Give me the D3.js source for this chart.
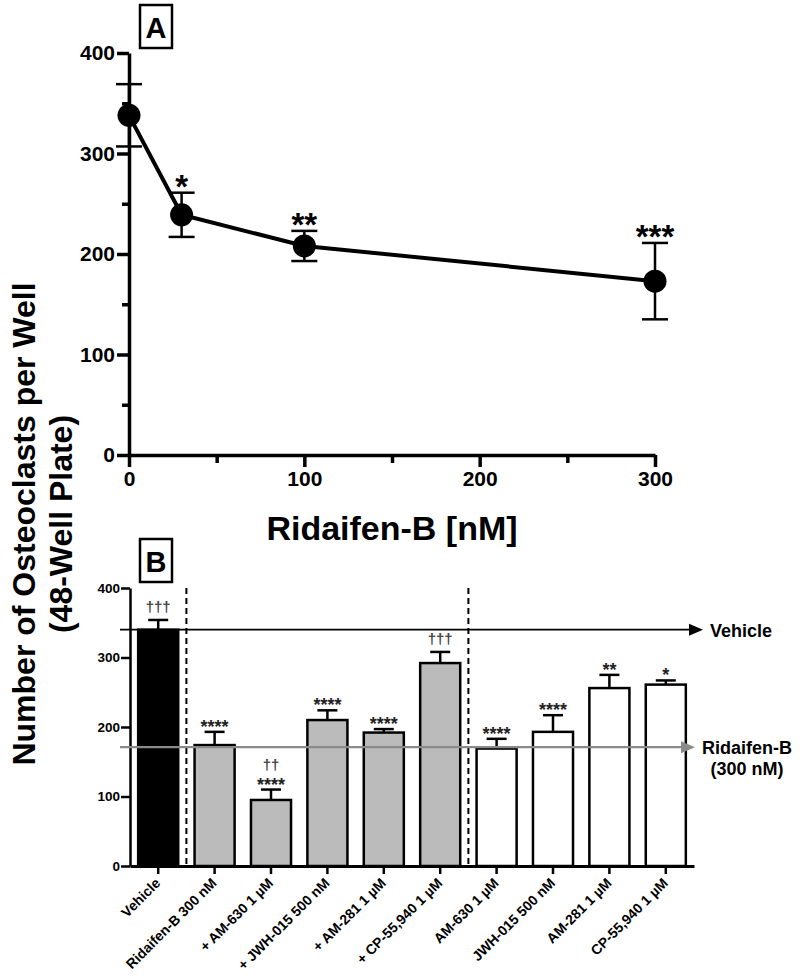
<!DOCTYPE html>
<html><head><meta charset="utf-8">
<script src="https://cdn.jsdelivr.net/npm/d3@7"></script>
<style>
body{margin:0;background:#fff}
text{font-family:"Liberation Sans",Arial,Helvetica,sans-serif;font-weight:bold}
</style>
</head><body>
<svg id="c" width="800" height="976"></svg>
<script>
// ---------- DATA: Panel A ----------
const doseA = [0, 30, 100, 300];
const meanA = [338, 239, 208, 173];
const errA = [31, 22, 15, 38];
const sigA = ["", "*", "**", "***"];
const xTicksA = [0, 100, 200, 300];
const xMinorA = [50, 150, 250];
const yTicksA = [0, 100, 200, 300, 400];
const yMinorA = [50, 150, 250, 350];

// ---------- DATA: Panel B ----------
const groupsB = ["Vehicle", "Ridaifen-B 300 nM", "+ AM-630 1 \u00b5M", "+ JWH-015 500 nM", "+ AM-281 1 \u00b5M",
  "+ CP-55,940 1 \u00b5M", "AM-630 1 \u00b5M", "JWH-015 500 nM", "AM-281 1 \u00b5M", "CP-55,940 1 \u00b5M"];
const kindB = ["vehicle", "combo", "combo", "combo", "combo", "combo", "alone", "alone", "alone", "alone"];
const meanB = [340, 174, 95, 210, 192, 292, 169, 193, 256, 261];
const errB = [14, 19, 15, 14, 5, 16, 14, 24, 19, 6];
const starsB = ["", "****", "****", "****", "****", "", "****", "****", "**", "*"];
const daggersB = ["\u2020\u2020\u2020", "", "\u2020\u2020", "", "", "\u2020\u2020\u2020", "", "", "", ""];
const yTicksB = [0, 100, 200, 300, 400];
const refValB = [340, 171];
const refNameB = [["Vehicle"], ["Ridaifen-B", "(300 nM)"]];
const dividerAfterB = [0, 5];

// ---------- DRAW ----------
const svg = d3.select("#c");
const fillFor = {vehicle: "#000", combo: "#bbbbbb", alone: "#ffffff"};

// Shared y label
const yl = svg.append("g");
yl.append("text").attr("transform", "translate(35,524) rotate(-90)").attr("text-anchor", "middle")
  .attr("font-size", 32).text("Number of Osteoclasts per Well");
yl.append("text").attr("transform", "translate(72,524) rotate(-90)").attr("text-anchor", "middle")
  .attr("font-size", 32).text("(48-Well Plate)");

// ===== Panel A =====
const xA = d3.scaleLinear().domain([0, 300]).range([129, 655]);
const yA = d3.scaleLinear().domain([0, 400]).range([455, 53]);
const gA = svg.append("g");

// minor ticks
gA.append("g").attr("transform", "translate(129,0)")
  .call(d3.axisLeft(yA).tickValues(yMinorA).tickSize(7).tickFormat("").tickSizeOuter(0))
  .call(g => g.select(".domain").remove())
  .call(g => g.selectAll("line").attr("stroke-width", 3.5));
gA.append("g").attr("transform", "translate(0,455)")
  .call(d3.axisBottom(xA).tickValues(xMinorA).tickSize(8).tickFormat("").tickSizeOuter(0))
  .call(g => g.select(".domain").remove())
  .call(g => g.selectAll("line").attr("stroke-width", 3.5));
// major axes
gA.append("g").attr("transform", "translate(129,0)")
  .call(d3.axisLeft(yA).tickValues(yTicksA).tickSize(12).tickSizeOuter(0).tickPadding(2))
  .call(g => g.select(".domain").attr("stroke-width", 3.5))
  .call(g => g.selectAll("line").attr("stroke-width", 3.5))
  .call(g => g.selectAll("text").attr("font-size", 21).attr("fill", "#000").attr("font-family", null));
gA.append("g").attr("transform", "translate(0,455)")
  .call(d3.axisBottom(xA).tickValues(xTicksA).tickSize(12).tickSizeOuter(0).tickPadding(4))
  .call(g => g.select(".domain").attr("stroke-width", 3.5))
  .call(g => g.selectAll("line").attr("stroke-width", 3.5))
  .call(g => g.selectAll("text").attr("font-size", 21).attr("fill", "#000").attr("font-family", null));

gA.append("text").attr("x", 392).attr("y", 540).attr("text-anchor", "middle")
  .attr("font-size", 34).text("Ridaifen-B [nM]");

const ptsA = doseA.map((d, i) => ({d, m: meanA[i], e: errA[i], s: sigA[i]}));
gA.append("path").datum(ptsA)
  .attr("d", d3.line().x(p => xA(p.d)).y(p => yA(p.m)))
  .attr("fill", "none").attr("stroke", "#000").attr("stroke-width", 4);
const ebA = gA.selectAll(".eba").data(ptsA).enter().append("g");
ebA.append("line").attr("x1", p => xA(p.d)).attr("x2", p => xA(p.d))
  .attr("y1", p => yA(p.m - p.e)).attr("y2", p => yA(p.m + p.e)).attr("stroke", "#000").attr("stroke-width", 2.5);
[1, -1].forEach(sg => {
  ebA.append("line").attr("x1", p => xA(p.d) - 13).attr("x2", p => xA(p.d) + 13)
    .attr("y1", p => yA(p.m + sg * p.e)).attr("y2", p => yA(p.m + sg * p.e))
    .attr("stroke", "#000").attr("stroke-width", 2.5);
});
gA.selectAll(".pt").data(ptsA).enter().append("circle")
  .attr("cx", p => xA(p.d)).attr("cy", p => yA(p.m)).attr("r", 11.5).attr("fill", "#000");
gA.selectAll(".sig").data(ptsA).enter().append("text")
  .attr("x", p => xA(p.d)).attr("y", p => yA(p.m + p.e) + 5).attr("text-anchor", "middle")
  .attr("font-size", 33).text(p => p.s);

// Box A
gA.append("rect").attr("x", 140).attr("y", 5).attr("width", 32).attr("height", 43)
  .attr("fill", "#fff").attr("stroke", "#000").attr("stroke-width", 2.5);
gA.append("text").attr("x", 156).attr("y", 38).attr("text-anchor", "middle").attr("font-size", 29).text("A");

// ===== Panel B =====
const xB = d3.scaleBand().domain(groupsB).range([130, 694]).paddingInner(0.29).paddingOuter(0.145);
const yB = d3.scaleLinear().domain([0, 400]).range([866, 588]);
const gB = svg.append("g");
const bw = xB.bandwidth();
const step = xB.step();

// dashed dividers
gB.selectAll(".div").data(dividerAfterB).enter().append("line")
  .attr("x1", i => xB(groupsB[i]) + bw + (step - bw) / 2)
  .attr("x2", i => xB(groupsB[i]) + bw + (step - bw) / 2)
  .attr("y1", yB(400)).attr("y2", yB(0))
  .attr("stroke", "#000").attr("stroke-width", 2).attr("stroke-dasharray", "6,4");

const barsB = groupsB.map((g, i) => ({g, k: kindB[i], m: meanB[i], e: errB[i], s: starsB[i], d: daggersB[i]}));
// error bars (behind bars)
gB.selectAll(".ebb").data(barsB).enter().append("line")
  .attr("x1", b => xB(b.g) + bw / 2).attr("x2", b => xB(b.g) + bw / 2)
  .attr("y1", b => yB(b.m)).attr("y2", b => yB(b.m + b.e)).attr("stroke", "#000").attr("stroke-width", 2.5);
gB.selectAll(".ebc").data(barsB).enter().append("line")
  .attr("x1", b => xB(b.g) + bw / 2 - 10).attr("x2", b => xB(b.g) + bw / 2 + 10)
  .attr("y1", b => yB(b.m + b.e)).attr("y2", b => yB(b.m + b.e)).attr("stroke", "#000").attr("stroke-width", 2.5);
gB.selectAll(".bar").data(barsB).enter().append("rect")
  .attr("x", b => xB(b.g)).attr("y", b => yB(b.m)).attr("width", bw)
  .attr("height", b => yB(0) - yB(b.m)).attr("fill", b => fillFor[b.k])
  .attr("stroke", "#000").attr("stroke-width", 2.5);

// axes B
gB.append("g").attr("transform", "translate(130,0)")
  .call(d3.axisLeft(yB).tickValues(yTicksB).tickSize(9).tickSizeOuter(0).tickPadding(1))
  .call(g => g.select(".domain").attr("stroke-width", 2.5))
  .call(g => g.selectAll("line").attr("stroke-width", 2.5))
  .call(g => g.selectAll("text").attr("font-size", 13.5).attr("fill", "#000").attr("font-family", null));
gB.append("g").attr("transform", "translate(0,866)")
  .call(d3.axisBottom(xB).tickSize(8).tickSizeOuter(0).tickFormat(""))
  .call(g => g.select(".domain").attr("stroke-width", 3))
  .call(g => g.selectAll("line").attr("stroke-width", 2.5));
gB.selectAll(".xl").data(groupsB).enter().append("text")
  .attr("transform", g => `translate(${xB(g) + bw / 2 + 3},884) rotate(-45)`)
  .attr("text-anchor", "end").attr("font-size", 14).text(g => g);

// reference lines
const refTip = [703, 695];
const refColor = ["#000", "#8a8a8a"];
refValB.forEach((v, i) => {
  const y = yB(v);
  gB.append("line").attr("x1", 120).attr("x2", refTip[i] - 12).attr("y1", y).attr("y2", y)
    .attr("stroke", refColor[i]).attr("stroke-width", i === 0 ? 1.8 : 2.2);
  gB.append("path").attr("d", `M${refTip[i]},${y} L${refTip[i] - 14},${y - 6} L${refTip[i] - 14},${y + 6} Z`)
    .attr("fill", refColor[i]);
});
gB.append("text").attr("x", 710).attr("y", yB(refValB[0]) + 7).attr("font-size", 18).text(refNameB[0][0]);
refNameB[1].forEach((t, j) => {
  gB.append("text").attr("x", 747).attr("y", yB(refValB[1]) + 7 + j * 21).attr("text-anchor", "middle")
    .attr("font-size", 18).text(t);
});

// annotations
gB.selectAll(".st").data(barsB).enter().append("text")
  .attr("x", b => xB(b.g) + bw / 2).attr("y", b => yB(b.m + b.e) + 1).attr("text-anchor", "middle")
  .attr("font-size", 18).attr("fill", "#222").text(b => b.s);
gB.selectAll(".dg").data(barsB).enter().append("text")
  .attr("x", b => xB(b.g) + bw / 2)
  .attr("y", b => yB(b.m + b.e) - (b.s ? 20 : 8)).attr("text-anchor", "middle")
  .attr("font-size", 15).attr("fill", "#444").text(b => b.d);

// Box B
gB.append("rect").attr("x", 140).attr("y", 539).attr("width", 32).attr("height", 43)
  .attr("fill", "#fff").attr("stroke", "#000").attr("stroke-width", 2.5);
gB.append("text").attr("x", 156).attr("y", 572).attr("text-anchor", "middle").attr("font-size", 29).text("B");
</script>
</body></html>
